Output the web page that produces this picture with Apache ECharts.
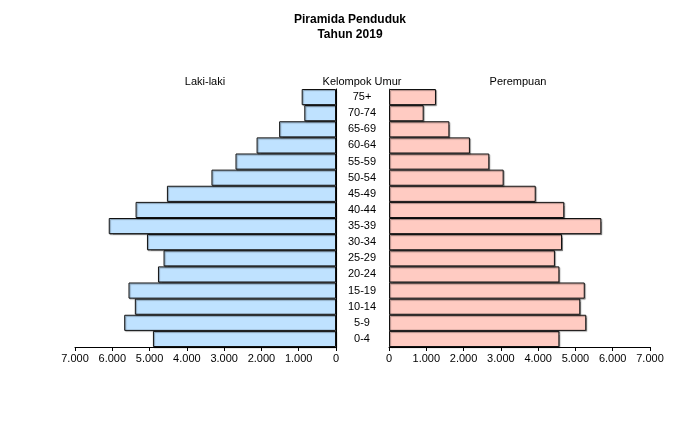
<!DOCTYPE html>
<html>
<head>
<meta charset="utf-8">
<script src="https://cdn.jsdelivr.net/npm/echarts@6/dist/echarts.min.js"></script>
<style>html,body{margin:0;padding:0;background:#fff}#c{width:700px;height:437px}</style>
</head>
<body>
<div id="c"></div>
<script>
var categories = ['0-4','5-9','10-14','15-19','20-24','25-29','30-34','35-39','40-44','45-49','50-54','55-59','60-64','65-69','70-74','75+'];
var lakiLaki = [4910, 5680, 5395, 5565, 4775, 4625, 5070, 6095, 5375, 4535, 3340, 2695, 2130, 1525, 850, 920];
var perempuan = [4570, 5290, 5130, 5250, 4570, 4450, 4640, 5695, 4700, 3935, 3075, 2690, 2170, 1620, 930, 1260];
var axisTicks = [0, 1000, 2000, 3000, 4000, 5000, 6000, 7000];

var FONT = 'Liberation Sans, Arial, sans-serif';
function fmt(v){ return String(v).replace(/\B(?=(\d{3})+(?!\d))/g, '.'); }

var chart = echarts.init(document.getElementById('c'));
var xCommon = {
  type: 'value', min: axisTicks[0], max: axisTicks[axisTicks.length-1], interval: 1000,
  splitLine: {show: false},
  axisLine: {show: true, lineStyle: {color: '#000', width: 1}},
  axisTick: {show: true, length: 4, lineStyle: {color: '#000'}},
  axisLabel: {color: '#000', fontFamily: FONT, fontSize: 11, margin: 6, formatter: fmt}
};
var hdr = {fontFamily: FONT, fontSize: 11, fontWeight: 'normal', color: '#000'};
chart.setOption({
  animation: false,
  title: [
    {text: 'Piramida Penduduk\nTahun 2019', left: 'center', top: 12, padding: 0,
     textStyle: {fontFamily: FONT, fontSize: 12, fontWeight: 'bold', color: '#000', lineHeight: 15}},
    {text: 'Laki-laki', left: 205, top: 76, padding: 0, textAlign: 'center', textStyle: hdr},
    {text: 'Kelompok Umur', left: 362, top: 76, padding: 0, textAlign: 'center', textStyle: hdr},
    {text: 'Perempuan', left: 518, top: 76, padding: 0, textAlign: 'center', textStyle: hdr}
  ],
  grid: [
    {left: 75, right: 364, top: 89, bottom: 90},
    {left: 389, right: 50, top: 89, bottom: 90}
  ],
  xAxis: [
    Object.assign({gridIndex: 0, inverse: true}, xCommon),
    Object.assign({gridIndex: 1}, xCommon)
  ],
  yAxis: [
    {type: 'category', gridIndex: 0, data: categories, position: 'right',
     axisLine: {show: true, lineStyle: {color: '#000'}}, axisTick: {show: false},
     axisLabel: {align: 'center', margin: 26, color: '#000', fontFamily: FONT, fontSize: 11}},
    {type: 'category', gridIndex: 1, data: categories, position: 'left',
     axisLine: {show: true, lineStyle: {color: '#666'}}, axisTick: {show: false},
     axisLabel: {show: false}}
  ],
  series: [
    {type: 'bar', name: 'Laki-laki', xAxisIndex: 0, yAxisIndex: 0, data: lakiLaki,
     barCategoryGap: '0%',
     itemStyle: {color: '#BFE2FF', borderColor: '#111', borderWidth: 1,
       shadowColor: 'rgba(0,0,0,0.35)', shadowOffsetX: 1, shadowOffsetY: 1, shadowBlur: 1}},
    {type: 'bar', name: 'Perempuan', xAxisIndex: 1, yAxisIndex: 1, data: perempuan,
     barCategoryGap: '0%',
     itemStyle: {color: '#FFCBC2', borderColor: '#111', borderWidth: 1,
       shadowColor: 'rgba(0,0,0,0.35)', shadowOffsetX: 1, shadowOffsetY: 1, shadowBlur: 1}}
  ]
});
</script>
</body>
</html>
